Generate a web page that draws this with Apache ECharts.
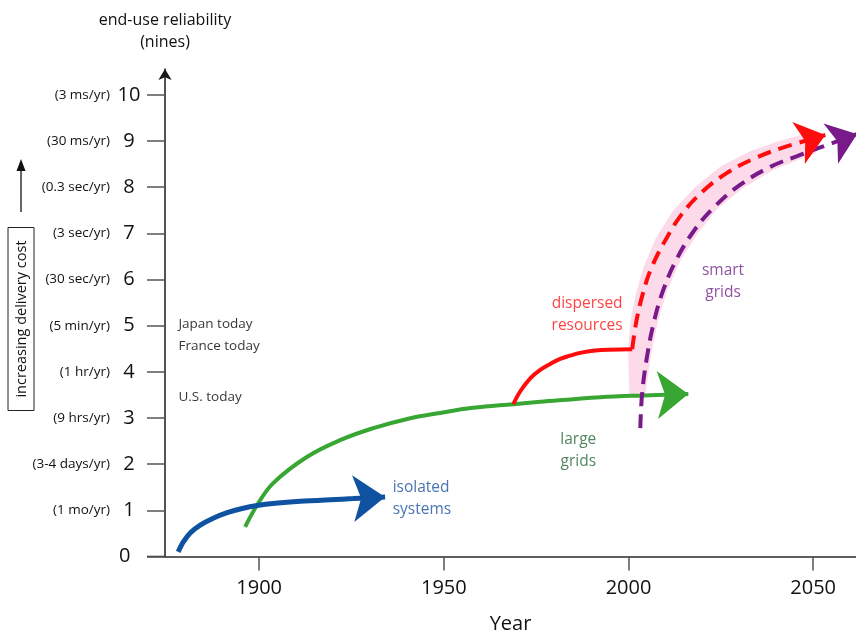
<!DOCTYPE html>
<html><head><meta charset="utf-8">
<script src="https://cdn.jsdelivr.net/npm/echarts@6/dist/echarts.min.js"></script>
<style>html,body{margin:0;padding:0;background:#fff}#c{width:856px;height:630px}</style>
</head><body><div id="c"></div>
<script>
const FONT = "'Open Sans', 'Noto Sans', sans-serif";

// ---- data ----
const yTicks = [0,1,2,3,4,5,6,7,8,9,10];
const yTickNotes = ['', '(1 mo/yr)', '(3-4 days/yr)', '(9 hrs/yr)', '(1 hr/yr)', '(5 min/yr)',
  '(30 sec/yr)', '(3 sec/yr)', '(0.3 sec/yr)', '(30 ms/yr)', '(3 ms/yr)'];
const xTicks = [1900, 1950, 2000, 2050];

const isolatedSystems = [[1878.07,0.10],[1879.42,0.31],[1881.32,0.51],[1884.03,0.68],[1887.55,0.83],
  [1891.34,0.95],[1895.40,1.04],[1899.46,1.105],[1904.33,1.153],[1911.10,1.196],[1919.22,1.231],
  [1925.45,1.254],[1934.10,1.288]];
const largeGrids = [[1896.2,0.64],[1899.5,1.12],[1903.8,1.59],[1913.0,2.16],[1921.9,2.52],[1930.9,2.78],
  [1940.1,2.98],[1949.0,3.11],[1957.9,3.22],[1968.8,3.30],[1976.1,3.35],[1992.3,3.45],[2004.0,3.49],[2016.2,3.52]];
const dispersedResources = [[1968.8,3.30],[1970.7,3.58],[1973.4,3.86],[1976.1,4.04],[1978.8,4.17],[1981.5,4.28],
  [1984.2,4.35],[1986.9,4.41],[1991.0,4.46],[1995.0,4.48],[2001.0,4.49]];
const dispersedFuture = [[2001.0,4.49],[2002.1,5.08],[2003.7,5.64],[2006.1,6.23],[2009.7,6.81],[2014.3,7.40],
  [2020.0,7.90],[2026.7,8.31],[2034.3,8.63],[2041.6,8.85],[2053.3,9.13]];
const smartGrids = [[2003.2,2.78],[2003.7,3.54],[2005.1,4.37],[2007.0,5.12],[2009.4,5.77],[2012.9,6.42],
  [2017.5,7.03],[2023.2,7.57],[2030.2,8.05],[2038.4,8.44],[2046.5,8.70],[2051.9,8.86],[2061.9,9.15]];
const bandLeft = [[2000.2,3.50],[1999.9,4.49],[2000.5,5.08],[2001.8,5.64],[2004.0,6.25],[2007.2,6.86],
  [2011.8,7.46],[2017.8,7.98],[2024.8,8.44],[2032.9,8.78],[2040.8,9.00],[2047.8,9.15]];
const bandRight = [[2004.5,3.50],[2006.1,4.36],[2008.0,5.11],[2010.5,5.77],[2014.0,6.40],[2018.6,6.98],
  [2024.0,7.53],[2031.0,7.98],[2039.2,8.37],[2047.3,8.63],[2050.8,8.74]];

const todayLabels = [[1878.0,5.04,'Japan today'],[1878.0,4.56,'France today'],[1878.0,3.45,'U.S. today']];
const curveLabels = [
  [1936.0,1.26,'isolated\nsystems'],
  [1986.4,2.29,'large\ngrids'],
  [1988.8,5.25,'dispersed\nresources'],
  [2025.6,5.95,'smart\ngrids']
];

// ---- styles ----
const BLUE = '#0f52a2', GREEN = '#38a632', RED = '#ff0d0d', PURPLE = '#781a8a', PINK = '#fcdaea';
const labelStyles = [
  {color:'#1a50a0', position:'right', align:'left'},
  {color:'#276536', position:'inside', align:'center'},
  {color:'#ff1414', position:'inside', align:'center'},
  {color:'#722488', position:'inside', align:'center'}
];
const X_MIN = 1874.5, X_MAX = 2061.6, Y_MAX = 10.56;

const chart = echarts.init(document.getElementById('c'), null, {renderer:'canvas'});

function lineSeries(data, color, width, dashed, z, smooth) {
  return {
    type:'line', data, symbol:'none', showSymbol:false, smooth:smooth, clip:false,
    lineStyle:{color, width, type: dashed ? [14, 8] : 'solid', cap:'butt'}, z, silent:true
  };
}

const option = {
  animation:false,
  backgroundColor:'#ffffff',
  textStyle:{fontFamily:FONT},
  grid:{left:165, right:0, top:69, bottom:73.5, containLabel:false, outerBoundsMode:'none'},
  xAxis:{
    type:'value', min:X_MIN, max:X_MAX,
    name:'Year', nameLocation:'middle', nameGap:58,
    nameTextStyle:{fontSize:20, color:'#111', fontFamily:FONT},
    axisLine:{show:true, lineStyle:{color:'#2b2b2b', width:1.5}},
    axisTick:{show:true, length:14, customValues:xTicks, lineStyle:{color:'#555', width:1.5}},
    axisLabel:{customValues:xTicks, fontSize:20, color:'#111', margin:22, fontFamily:FONT, formatter:v=>String(Math.round(v))},
    splitLine:{show:false}
  },
  yAxis:{
    type:'value', min:0, max:Y_MAX,
    name:'end-use reliability\n(nines)', nameLocation:'end', nameGap:16,
    nameTextStyle:{fontSize:16, color:'#111', lineHeight:22, align:'center', fontFamily:FONT},
    axisLine:{show:true, symbol:['none','arrow'], symbolSize:[10,11], lineStyle:{color:'#1a1a1a', width:1.5}},
    axisTick:{show:true, length:18, customValues:yTicks, lineStyle:{color:'#555', width:1.5}},
    axisLabel:{
      customValues:yTicks, margin:26, fontFamily:FONT,
      formatter:(v)=>{ const i=Math.round(v); const n=yTickNotes[i]; return (n?'{a|'+n+'}':'')+'{b|'+i+'}'; },
      rich:{
        a:{fontSize:13.5, color:'#111', fontFamily:FONT},
        b:{fontSize:20, color:'#111', width:20, align:'left', padding:[0,0,0,9], fontFamily:FONT}
      }
    },
    splitLine:{show:false}
  },
  series:[
    {type:'custom', silent:true, z:1, clip:false, data:[bandLeft[0]],
      renderItem:(params, api)=>{
        const pts = bandLeft.map(p=>api.coord(p)).concat(bandRight.slice().reverse().map(p=>api.coord(p)));
        return {type:'polygon', shape:{points:pts, smooth:0}, style:{fill:PINK}};
      }},
    lineSeries(isolatedSystems, BLUE, 5, false, 3, 0.3),
    lineSeries(largeGrids, GREEN, 4, false, 2, 0.4),
    lineSeries(dispersedResources, RED, 4, false, 3, 0.4),
    lineSeries(dispersedFuture, RED, 4, true, 4, 0.4),
    lineSeries(smartGrids, PURPLE, 4, true, 4, 0.4),
    {type:'scatter', id:'arrows', data:[], z:6, silent:true, clip:false},
    {type:'scatter', silent:true, z:5, symbolSize:1, itemStyle:{color:'rgba(0,0,0,0)'},
      data:todayLabels.map(d=>({value:d})),
      label:{show:true, position:'right', distance:0, formatter:p=>p.value[2], fontSize:13.5, color:'#000', fontFamily:FONT}},
    {type:'scatter', silent:true, z:5, symbolSize:1, itemStyle:{color:'rgba(0,0,0,0)'},
      data:curveLabels.map((d,i)=>({value:d, label:{show:true, position:labelStyles[i].position, distance:0,
        align:labelStyles[i].align, color:labelStyles[i].color}})),
      label:{show:true, formatter:p=>p.value[2], fontSize:15.5, lineHeight:22, fontFamily:FONT}}
  ]
};
chart.setOption(option);

const arrowDefs = [
  {curve:isolatedSystems, color:BLUE, size:[35,32]},
  {curve:largeGrids, color:GREEN, size:[36,31]},
  {curve:dispersedFuture, color:RED, size:[33,28]},
  {curve:smartGrids, color:PURPLE, size:[32,28]}
];
const arrowData = arrowDefs.map(d=>{
  const n = d.curve.length;
  const a = chart.convertToPixel({gridIndex:0}, d.curve[n-2]);
  const b = chart.convertToPixel({gridIndex:0}, d.curve[n-1]);
  const ang = Math.atan2(a[1]-b[1], b[0]-a[0]) * 180 / Math.PI;
  return {value:d.curve[n-1], symbol:'arrow', symbolSize:d.size, symbolRotate:ang-90,
    itemStyle:{color:d.color, opacity:1}};
});
const origin = chart.convertToPixel({gridIndex:0}, [X_MIN, 0]);
chart.setOption({
  series:[{id:'arrows', data:arrowData}],
  graphic:[
    {type:'line', shape:{x1:origin[0]-18, y1:origin[1], x2:origin[0], y2:origin[1]}, style:{stroke:'#2b2b2b', lineWidth:1.5}},
    {type:'line', shape:{x1:21, y1:212, x2:21, y2:168}, style:{stroke:'#333', lineWidth:1.5}},
    {type:'polygon', shape:{points:[[21,159],[16.5,171],[25.5,171]]}, style:{fill:'#111'}},
    {type:'rect', shape:{x:8, y:227.5, width:26, height:183}, style:{fill:'none', stroke:'#222', lineWidth:1}},
    {type:'text', x:22, y:319, rotation:Math.PI/2,
      style:{text:'increasing delivery cost', align:'center', verticalAlign:'middle', fontSize:14.5, fill:'#111', fontFamily:FONT}}
  ]
});
</script></body></html>
